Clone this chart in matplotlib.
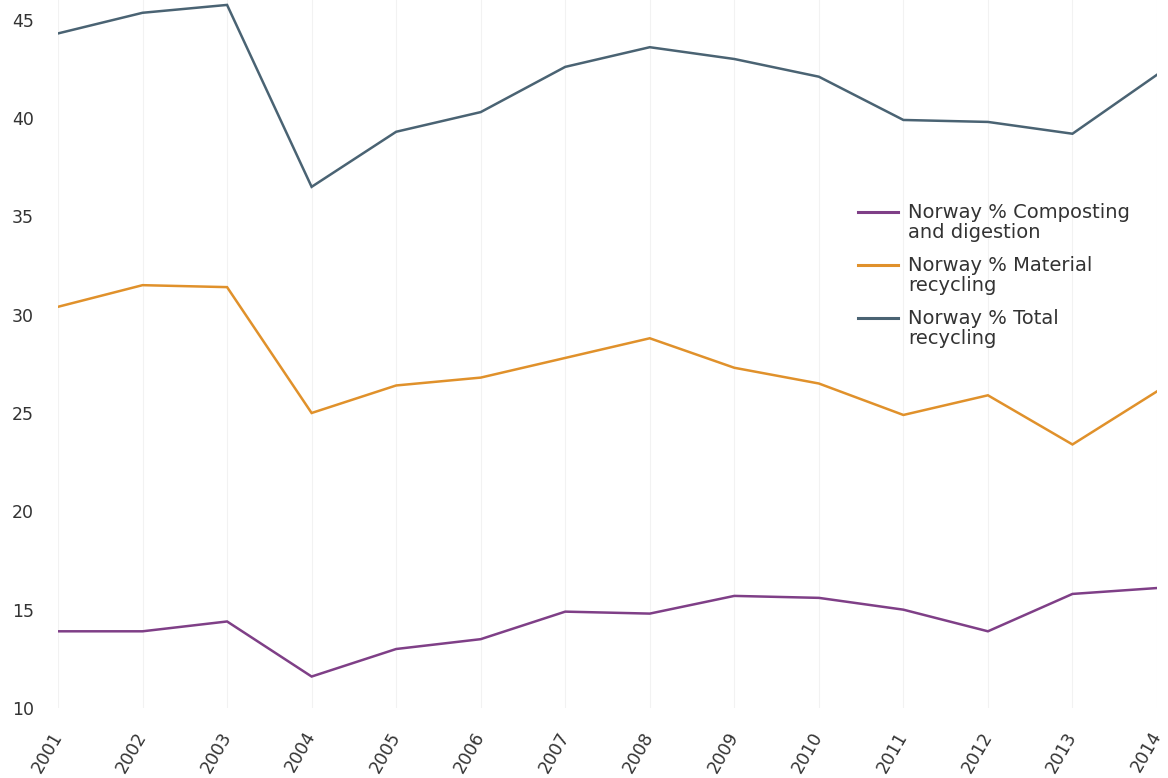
import matplotlib
matplotlib.use("Agg")
import matplotlib.pyplot as plt
from matplotlib.lines import Line2D

years = list(range(2001, 2015))
composting = [13.9, 13.9, 14.4, 11.6, 13.0, 13.5, 14.9, 14.8, 15.7, 15.6, 15.0, 13.9, 15.8, 16.1]
material = [30.4, 31.5, 31.4, 25.0, 26.4, 26.8, 27.8, 28.8, 27.3, 26.5, 24.9, 25.9, 23.4, 26.1]
total = [44.3, 45.35, 45.75, 36.5, 39.3, 40.3, 42.6, 43.6, 43.0, 42.1, 39.9, 39.8, 39.2, 42.2]

labels = ["Norway % Composting\nand digestion",
          "Norway % Material\nrecycling",
          "Norway % Total\nrecycling"]
colors = ["#7f3f87", "#e0912b", "#4a6373"]
txt_col = '#333333'

W, H = 1168, 778
fig = plt.figure(figsize=(W / 100, H / 100), dpi=100)
ax = fig.add_axes([58 / W, 1 - 708 / H, (1157 - 58) / W, 708 / H])

for series, lab, col in zip([composting, material, total], labels, colors):
    ax.plot(years, series, color=col, lw=1.8, label=lab, solid_joinstyle='miter')

ax.set_xlim(2001, 2014)
ax.set_ylim(10, 46)
ax.set_yticks(range(10, 50, 5))
ax.set_xticks(years)
ax.set_xticklabels([str(y) for y in years], rotation=60, ha='right', va='center',
                   rotation_mode='anchor', fontsize=12.5, color=txt_col)
ax.tick_params(axis='y', length=0, pad=33, labelsize=12.5, labelcolor=txt_col)
for lbl in ax.get_yticklabels():
    lbl.set_horizontalalignment('left')
ax.tick_params(axis='x', length=0, pad=18)
ax.xaxis.grid(True, color='#f2f2f2', lw=0.8)
ax.set_axisbelow(True)
for s in ax.spines.values():
    s.set_visible(False)

# legend: handle sits on the first line of each two-line label
row_y = [212, 265, 318]
for lab, col, yp in zip(labels, colors, row_y):
    fig.add_artist(Line2D([858 / W, 898 / W], [1 - yp / H] * 2,
                          transform=fig.transFigure, color=col, lw=2.2))
    fig.text(908 / W, 1 - (yp - 9) / H, lab, va='top', ha='left',
             fontsize=14, color=txt_col, linespacing=1.08)

fig.savefig("out.png", dpi=100)
